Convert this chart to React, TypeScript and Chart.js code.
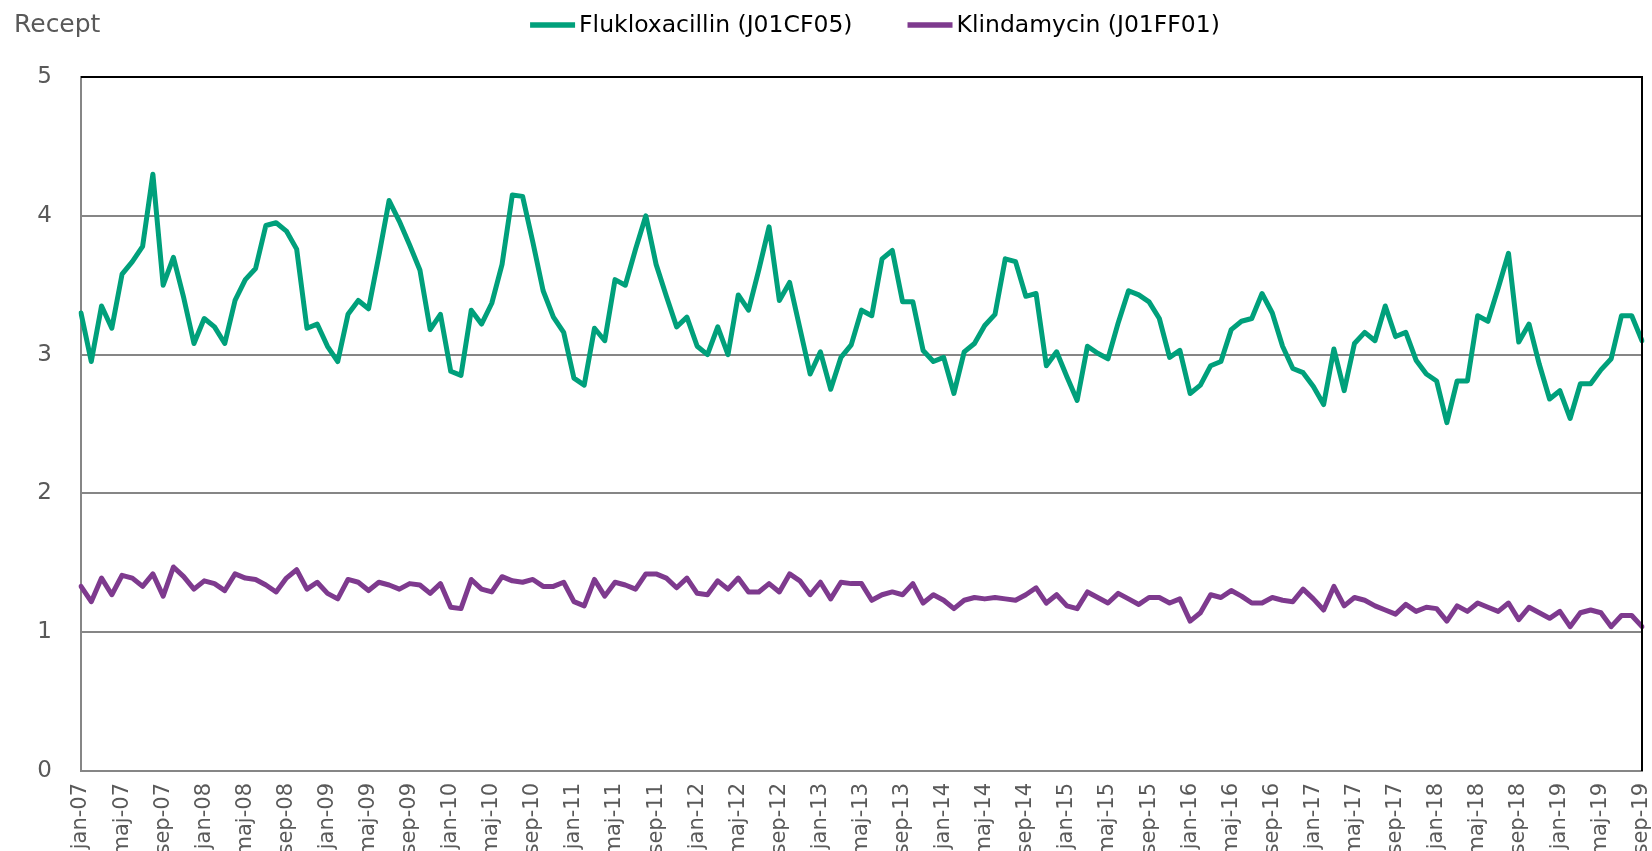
import React, { useEffect, useRef } from "react";
import { Chart, registerables } from "chart.js";

Chart.register(...registerables);

const monthNames = ["jan", "feb", "mar", "apr", "maj", "jun", "jul", "aug", "sep", "okt", "nov", "dec"];
const years = ["07", "08", "09", "10", "11", "12", "13", "14", "15", "16", "17", "18", "19"];
const monthsInLastYear = 9;
const labels: string[] = years.flatMap((y, yi) =>
  monthNames.slice(0, yi === years.length - 1 ? monthsInLastYear : 12).map((m) => `${m}-${y}`)
);

const seriesNames = ["Flukloxacillin (J01CF05)", "Klindamycin (J01FF01)"];
const seriesColors = ["#00A07B", "#7E3A8E"];

const flukloxacillin = [
  3.30, 2.95, 3.35, 3.19, 3.58, 3.67, 3.78, 4.30, 3.50, 3.70, 3.41, 3.08,
  3.26, 3.20, 3.08, 3.39, 3.54, 3.62, 3.93, 3.95, 3.89, 3.76, 3.19, 3.22,
  3.06, 2.95, 3.29, 3.39, 3.33, 3.71, 4.11, 3.96, 3.79, 3.61, 3.18, 3.29,
  2.88, 2.85, 3.32, 3.22, 3.37, 3.65, 4.15, 4.14, 3.81, 3.46, 3.27, 3.16,
  2.83, 2.78, 3.19, 3.10, 3.54, 3.50, 3.76, 4.00, 3.65, 3.42, 3.20, 3.27,
  3.06, 3.00, 3.20, 3.00, 3.43, 3.32, 3.61, 3.92, 3.39, 3.52, 3.19, 2.86,
  3.02, 2.75, 2.98, 3.07, 3.32, 3.28, 3.69, 3.75, 3.38, 3.38, 3.03, 2.95,
  2.98, 2.72, 3.02, 3.08, 3.21, 3.29, 3.69, 3.67, 3.42, 3.44, 2.92, 3.02,
  2.84, 2.67, 3.06, 3.01, 2.97, 3.23, 3.46, 3.43, 3.38, 3.26, 2.98, 3.03,
  2.72, 2.78, 2.92, 2.95, 3.18, 3.24, 3.26, 3.44, 3.30, 3.06, 2.90, 2.87,
  2.77, 2.64, 3.04, 2.74, 3.08, 3.16, 3.10, 3.35, 3.13, 3.16, 2.96, 2.86,
  2.81, 2.51, 2.81, 2.81, 3.28, 3.24, 3.48, 3.73, 3.09, 3.22, 2.93, 2.68,
  2.74, 2.54, 2.79, 2.79, 2.89, 2.97, 3.28, 3.28, 3.10,
];

const klindamycin = [
  1.33, 1.22, 1.39, 1.27, 1.41, 1.39, 1.33, 1.42, 1.26, 1.47, 1.40, 1.31,
  1.37, 1.35, 1.30, 1.42, 1.39, 1.38, 1.34, 1.29, 1.39, 1.45, 1.31, 1.36,
  1.28, 1.24, 1.38, 1.36, 1.30, 1.36, 1.34, 1.31, 1.35, 1.34, 1.28, 1.35,
  1.18, 1.17, 1.38, 1.31, 1.29, 1.40, 1.37, 1.36, 1.38, 1.33, 1.33, 1.36,
  1.22, 1.19, 1.38, 1.26, 1.36, 1.34, 1.31, 1.42, 1.42, 1.39, 1.32, 1.39,
  1.28, 1.27, 1.37, 1.31, 1.39, 1.29, 1.29, 1.35, 1.29, 1.42, 1.37, 1.27,
  1.36, 1.24, 1.36, 1.35, 1.35, 1.23, 1.27, 1.29, 1.27, 1.35, 1.21, 1.27,
  1.23, 1.17, 1.23, 1.25, 1.24, 1.25, 1.24, 1.23, 1.27, 1.32, 1.21, 1.27,
  1.19, 1.17, 1.29, 1.25, 1.21, 1.28, 1.24, 1.20, 1.25, 1.25, 1.21, 1.24,
  1.08, 1.14, 1.27, 1.25, 1.30, 1.26, 1.21, 1.21, 1.25, 1.23, 1.22, 1.31,
  1.24, 1.16, 1.33, 1.19, 1.25, 1.23, 1.19, 1.16, 1.13, 1.20, 1.15, 1.18,
  1.17, 1.08, 1.19, 1.15, 1.21, 1.18, 1.15, 1.21, 1.09, 1.18, 1.14, 1.10,
  1.15, 1.04, 1.14, 1.16, 1.14, 1.04, 1.12, 1.12, 1.04,
];

const yAxisTitle = "Recept";
const labelEvery = 4;

const FONT = '"DejaVu Sans", Verdana, sans-serif';
const GRID = "#868686";
const TEXT_GREY = "#595959";

const decorPlugin = {
  id: "decor",
  afterDatasetsDraw(chart: any) {
    const { ctx, chartArea: a } = chart;
    ctx.save();
    ctx.strokeStyle = "#000";
    ctx.lineWidth = 2;
    ctx.beginPath();
    ctx.moveTo(a.left, a.top);
    ctx.lineTo(a.right, a.top);
    ctx.lineTo(a.right, a.bottom);
    ctx.stroke();
    ctx.restore();
  },
  afterDraw(chart: any) {
    const { ctx } = chart;
    ctx.save();
    ctx.textBaseline = "middle";
    ctx.textAlign = "left";
    ctx.font = `25px ${FONT}`;
    ctx.fillStyle = TEXT_GREY;
    ctx.fillText(yAxisTitle, 14, 25);

    ctx.font = `23.5px ${FONT}`;
    const lineLen = 45;
    const gap = 4;
    const itemGap = 55;
    const widths = seriesNames.map((n) => ctx.measureText(n).width);
    const total = widths.reduce((s, w) => s + lineLen + gap + w, 0) + itemGap * (seriesNames.length - 1);
    let x = 875 - total / 2;
    const y = 25;
    seriesNames.forEach((name, i) => {
      ctx.strokeStyle = seriesColors[i];
      ctx.lineWidth = 5.5;
      ctx.lineCap = "butt";
      ctx.beginPath();
      ctx.moveTo(x, y);
      ctx.lineTo(x + lineLen, y);
      ctx.stroke();
      ctx.fillStyle = "#000";
      ctx.fillText(name, x + lineLen + gap, y + 1);
      x += lineLen + gap + widths[i] + itemGap;
    });
    ctx.restore();
  },
};

export default function App() {
  const ref = useRef<HTMLCanvasElement | null>(null);

  useEffect(() => {
    if (!ref.current) return;
    const chart = new Chart(ref.current, {
      type: "line",
      data: {
        labels,
        datasets: [
          {
            label: seriesNames[0],
            data: flukloxacillin,
            borderColor: seriesColors[0],
            backgroundColor: seriesColors[0],
            borderWidth: 5,
            pointRadius: 0,
            tension: 0,
            borderJoinStyle: "round",
            borderCapStyle: "round",
          },
          {
            label: seriesNames[1],
            data: klindamycin,
            borderColor: seriesColors[1],
            backgroundColor: seriesColors[1],
            borderWidth: 5,
            pointRadius: 0,
            tension: 0,
            borderJoinStyle: "round",
            borderCapStyle: "round",
          },
        ],
      },
      options: {
        responsive: false,
        animation: false,
        devicePixelRatio: 1,
        layout: { padding: { top: 77, right: 10, left: 0, bottom: 0 } },
        plugins: {
          legend: { display: false },
          tooltip: { enabled: false },
          title: { display: false },
        },
        scales: {
          x: {
            type: "category",
            offset: false,
            grid: { display: true, color: "transparent", drawTicks: false },
            border: { display: true, color: GRID, width: 2 },
            ticks: {
              autoSkip: false,
              minRotation: 90,
              maxRotation: 90,
              padding: 12,
              color: TEXT_GREY,
              font: { family: FONT, size: 21 },
              callback: (_v: any, i: number) => (i % labelEvery === 0 ? labels[i] : ""),
            },
            afterFit: (scale: any) => {
              scale.height = 80;
              scale.paddingLeft = 0;
              scale.paddingRight = 0;
            },
          },
          y: {
            min: 0,
            max: 5,
            grid: {
              drawTicks: false,
              lineWidth: 2,
              color: (c: any) => (c.tick && c.tick.value === 5 ? "transparent" : GRID),
            },
            border: { display: true, color: GRID, width: 2 },
            ticks: {
              stepSize: 1,
              padding: 29,
              color: TEXT_GREY,
              font: { family: FONT, size: 23 },
            },
            afterFit: (scale: any) => {
              scale.width = 81;
              scale.paddingTop = 0;
              scale.paddingBottom = 0;
            },
          },
        },
      },
      plugins: [decorPlugin],
    });
    return () => chart.destroy();
  }, []);

  return (
    <div style={{ position: "fixed", left: 0, top: 0, width: 1652, height: 851, overflow: "hidden", background: "#fff" }}>
      <canvas ref={ref} width={1652} height={851} style={{ display: "block", width: 1652, height: 851 }} />
    </div>
  );
}
